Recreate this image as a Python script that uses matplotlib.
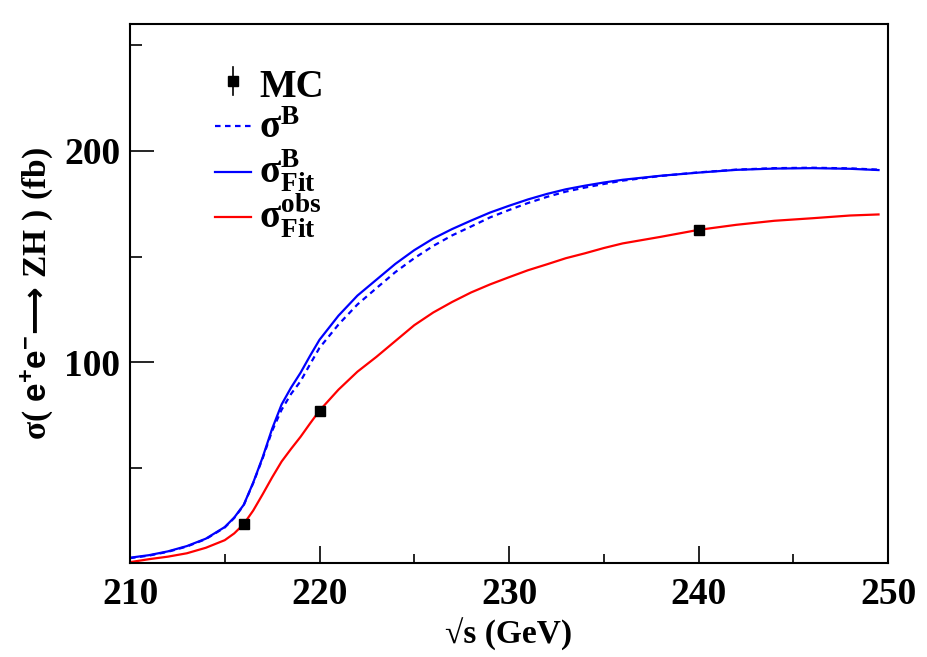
import matplotlib
matplotlib.use('Agg')
import matplotlib.pyplot as plt
from matplotlib.ticker import MultipleLocator
from matplotlib.lines import Line2D

plt.rcParams['font.family'] = ['Liberation Serif', 'DejaVu Serif']
plt.rcParams['font.weight'] = 'bold'
plt.rcParams['mathtext.fontset'] = 'custom'
plt.rcParams['mathtext.rm'] = 'Liberation Serif:bold'
plt.rcParams['mathtext.it'] = 'Liberation Serif:bold'
plt.rcParams['mathtext.bf'] = 'Liberation Serif:bold'
plt.rcParams['mathtext.sf'] = 'Liberation Sans:bold'
plt.rcParams['mathtext.tt'] = 'DejaVu Sans:bold'
plt.rcParams['mathtext.fallback'] = 'stix'

# ---- data ----
sqrt_s = [210, 211, 212, 213, 214, 215, 215.5, 216, 216.5, 217, 217.5, 218, 218.5,
          219, 219.5, 220, 221, 222, 223, 224, 225, 226, 227, 228, 229, 230, 231,
          232, 233, 234, 235, 236, 238, 240, 242, 244, 246, 248, 249.5]

sigma_B_fit = [7.5, 8.7, 10.5, 13.0, 16.5, 22.0, 26.5, 32.5, 43.0, 55.0, 68.5, 80.0, 88.0,
               95.0, 103.0, 110.6, 122.0, 131.5, 139.0, 146.5, 153.0, 158.5, 163.0, 167.0,
               170.8, 174.0, 177.0, 179.6, 181.8, 183.5, 185.0, 186.3, 188.2, 189.7, 191.0,
               191.6, 191.8, 191.5, 190.9]

sigma_B = [7.3, 8.5, 10.3, 12.8, 16.3, 21.8, 26.3, 32.3, 42.8, 54.5, 67.5, 77.5, 85.0,
           91.0, 99.0, 106.8, 117.8, 127.3, 135.0, 142.6, 149.2, 155.0, 160.0, 164.2,
           168.5, 172.0, 175.3, 178.2, 180.7, 182.6, 184.3, 185.9, 188.1, 189.8, 191.1,
           191.8, 192.0, 191.7, 191.1]

sigma_obs_fit = [5.4, 6.8, 8.0, 9.6, 12.2, 15.8, 19.0, 23.4, 29.8, 37.5, 45.5, 53.0, 59.0,
                 64.7, 71.0, 77.1, 87.0, 95.5, 102.5, 110.0, 117.5, 123.5, 128.5, 133.0,
                 136.8, 140.2, 143.5, 146.3, 149.2, 151.5, 154.0, 156.2, 159.3, 162.6, 165.0,
                 166.9, 168.1, 169.4, 169.9]

mc_x = [216, 220, 240]
mc_y = [23.4, 77.1, 162.6]
mc_err = [1.0, 1.0, 1.0]

x_ticks = [210, 220, 230, 240, 250]
y_ticks = [100, 200]

legend_labels = ['MC', r'$\mathrm{σ^{B}}$', r'$\mathrm{σ^{B}_{Fit}}$', r'$\mathrm{σ^{obs}_{Fit}}$']

W, H = 928, 657
def fx(px):
    return px / W
def fy(py):
    return 1 - py / H

# ---- figure ----
fig = plt.figure(figsize=(W / 100, H / 100), dpi=100)
ax = fig.add_axes([fx(130), fy(563), (888 - 130) / W, (563 - 24) / H])

blue, red = '#0000ff', '#ff0000'
dash = (0, (2.5, 2.0))
ax.plot(sqrt_s, sigma_B, color=blue, lw=1.6, ls=dash)
ax.plot(sqrt_s, sigma_B_fit, color=blue, lw=1.6)
ax.plot(sqrt_s, sigma_obs_fit, color=red, lw=1.6)
ax.errorbar(mc_x, mc_y, yerr=mc_err, fmt='s', color='black', ms=6.5, elinewidth=1.2,
            capsize=0, zorder=5)

ax.set_xlim(210, 250)
ax.set_ylim(5, 260)
ax.set_xticks(x_ticks)
ax.set_yticks(y_ticks)
ax.xaxis.set_minor_locator(MultipleLocator(5))
ax.yaxis.set_minor_locator(MultipleLocator(50))
ax.tick_params(axis='both', which='both', direction='in', top=False, right=False,
               labelsize=27, width=1.2)
ax.tick_params(axis='x', which='major', length=12, pad=10)
ax.tick_params(axis='x', which='minor', length=6.5)
ax.tick_params(axis='y', which='major', length=17, pad=7)
ax.tick_params(axis='y', which='minor', length=8.5)
for lab in ax.get_xticklabels() + ax.get_yticklabels():
    lab.set_fontweight('bold')
for sp in ax.spines.values():
    sp.set_linewidth(1.5)

ax.set_xlabel('√s (GeV)', fontsize=24, fontweight='bold', labelpad=4)
ax.set_ylabel(r'$\mathrm{σ(\ }\mathsf{e^{+}e^{-}}\mathtt{⟶}\mathrm{\ ZH\ )\ (fb)}$',
              fontsize=24, labelpad=6)

# ---- legend (drawn entry by entry, ROOT TLegend style) ----
fig.add_artist(Line2D([fx(233), fx(233)], [fy(67), fy(95)], color='black', lw=1.2,
                      transform=fig.transFigure))
fig.add_artist(Line2D([fx(233)], [fy(81)], marker='s', ms=6.5, color='black',
                      ls='none', transform=fig.transFigure))
line_styles = [(blue, dash), (blue, '-'), (red, '-')]
line_y = [126, 172, 217]
for (c, ls), py in zip(line_styles, line_y):
    fig.add_artist(Line2D([fx(215), fx(251)], [fy(py), fy(py)], color=c, lw=1.6, ls=ls,
                          transform=fig.transFigure))
baselines = [97, 138, 183, 229]
for lab, py in zip(legend_labels, baselines):
    fig.text(fx(259), fy(py), lab, fontsize=28, fontweight='bold', ha='left',
             va='baseline')

fig.savefig('out.png', dpi=100)
